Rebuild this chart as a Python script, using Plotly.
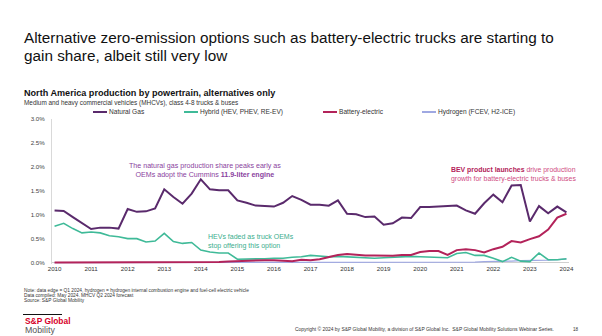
import plotly.graph_objects as go

# Quarterly production share (%) by powertrain, Q1 2010 .. Q1 2024
years = list(range(2010, 2025))
quarters = [y + q / 4 for y in range(2010, 2024) for q in range(4)] + [2024.0]

natural_gas = [
    1.09, 1.08, 0.95, 0.83,
    0.70, 0.73, 0.73, 0.71,
    1.12, 1.06, 1.07, 1.13,
    1.53, 1.37, 1.23, 1.44,
    1.74, 1.53, 1.51, 1.51,
    1.30, 1.25, 1.19, 1.18,
    1.17, 1.25, 1.39, 1.31,
    1.21, 1.21, 1.19, 1.30,
    1.02, 1.01, 0.95, 0.96,
    0.79, 0.82, 0.94, 0.93,
    1.16, 1.16, 1.17, 1.17,
    1.19, 1.09, 1.02, 1.24,
    1.42, 1.26, 1.61, 1.62,
    0.86, 1.18, 1.03, 1.17,
    1.05,
]
hybrid = [
    0.76, 0.82, 0.71, 0.62,
    0.64, 0.62, 0.56, 0.54,
    0.50, 0.50, 0.43, 0.45,
    0.61, 0.44, 0.40, 0.42,
    0.26, 0.22, 0.20, 0.20,
    0.07, 0.07, 0.07, 0.08,
    0.09, 0.09, 0.11, 0.12,
    0.15, 0.13, 0.12, 0.13,
    0.12, 0.10, 0.09, 0.09,
    0.10, 0.11, 0.12, 0.13,
    0.12, 0.11, 0.11, 0.10,
    0.19, 0.21, 0.15, 0.15,
    0.09, 0.02, 0.11, 0.03,
    0.02, 0.20, 0.06, 0.06,
    0.08,
]
battery_electric = [
    0.00, 0.00, 0.00, 0.00,
    0.00, 0.00, 0.00, 0.00,
    0.00, 0.00, 0.00, 0.00,
    0.00, 0.00, 0.00, 0.00,
    0.00, 0.01, 0.01, 0.02,
    0.03, 0.04, 0.04, 0.05,
    0.05, 0.04, 0.03, 0.06,
    0.05, 0.07, 0.11, 0.16,
    0.18, 0.16, 0.15, 0.15,
    0.14, 0.14, 0.16, 0.16,
    0.22, 0.24, 0.24, 0.16,
    0.26, 0.28, 0.26, 0.21,
    0.28, 0.33, 0.45, 0.42,
    0.49, 0.55, 0.69, 0.94,
    1.02,
]
hydrogen = [
    0.00, 0.00, 0.00, 0.00,
    0.00, 0.00, 0.00, 0.00,
    0.00, 0.00, 0.00, 0.00,
    0.00, 0.00, 0.00, 0.00,
    0.00, 0.00, 0.00, 0.00,
    0.00, 0.00, 0.00, 0.00,
    0.00, 0.00, 0.00, 0.00,
    0.00, 0.00, 0.00, 0.00,
    0.00, 0.00, 0.00, 0.00,
    0.00, 0.00, 0.01, 0.01,
    0.01, 0.01, 0.01, 0.01,
    0.01, 0.01, 0.01, 0.02,
    0.02, 0.03, 0.03, 0.04,
    0.04, 0.05, 0.05, 0.06,
    0.07,
]

y_ticks = [0.0, 0.5, 1.0, 1.5, 2.0, 2.5, 3.0]
y_tick_text = ["0.0%", "0.5%", "1.0%", "1.5%", "2.0%", "2.5%", "3.0%"]

series_names = ["Natural Gas", "Hybrid (HEV, PHEV, RE-EV)", "Battery-electric",
                "Hydrogen (FCEV, H2-ICE)"]
series_values = [natural_gas, hybrid, battery_electric, hydrogen]
series_colors = ["#5a2a6c", "#3fba98", "#b3235a", "#9fa8e2"]
series_widths = [2.0, 1.6, 2.0, 1.2]

W, H = 602, 336
ML, MR, MT, MB = 52, 33, 119, 72
PW, PH = W - ML - MR, H - MT - MB
FONT = "Liberation Sans, Arial, sans-serif"


def px(x):
    return (x - ML) / PW


def py(y):
    return (H - MB - y) / PH


fig = go.Figure()
# draw hydrogen first so the other lines sit on top of it
for i in [3, 1, 2, 0]:
    fig.add_trace(go.Scatter(
        x=quarters, y=series_values[i], mode="lines", name=series_names[i],
        line=dict(color=series_colors[i], width=series_widths[i]),
        showlegend=False, hoverinfo="skip",
    ))

annotations = []
shapes = []


def text(x, y, s, size, color="#222222", anchor="left", yanchor="middle"):
    annotations.append(dict(
        x=px(x), y=py(y), xref="paper", yref="paper", text=s, showarrow=False,
        xanchor=anchor, yanchor=yanchor, align=anchor,
        font=dict(family=FONT, size=size, color=color),
    ))


# headline and chart titles
text(22, 37, "Alternative zero-emission options such as battery-electric trucks are starting to",
     15.3, "#111111")
text(22, 55, "gain share, albeit still very low", 15.3, "#111111")
text(22, 93, "<b>North America production by powertrain, alternatives only</b>", 9.1, "#111111")
text(22, 103, "Medium and heavy commercial vehicles (MHCVs), class 4-8 trucks &amp; buses",
     6.4, "#333333")

# legend row
legend_x = [93, 184, 323, 422]
for lx, name, color in zip(legend_x, series_names, series_colors):
    shapes.append(dict(type="line", xref="paper", yref="paper",
                       x0=px(lx), x1=px(lx + 14), y0=py(112), y1=py(112),
                       line=dict(color=color, width=2)))
    text(lx + 14, 112, name, 6.6, "#333333")

# callouts on the chart
text(205, 170,
     "The natural gas production share peaks early as<br>"
     "OEMs adopt the Cummins <b>11.9-liter engine</b>",
     7.1, "#8a3f9e", anchor="center")
text(206, 241, "HEVs faded as truck OEMs<br>stop offering this option", 7.0, "#3aae8e")
text(449, 174,
     "<b><span style='color:#b3235a'>BEV product launches</span></b> drive production<br>"
     "growth for battery-electric trucks &amp; buses",
     6.9, "#cf4a7f")

# footnotes
text(22, 290.5, "Note: data edge = Q1 2024, hydrogen = hydrogen internal combustion engine and fuel-cell electric vehicle",
     4.8, "#333333")
text(22, 295.5, "Data compiled: May 2024. MHCV Q2 2024 forecast", 4.8, "#333333")
text(22, 300.5, "Source: S&amp;P Global Mobility", 4.8, "#333333")

# brand block and copyright line
shapes.append(dict(type="line", xref="paper", yref="paper",
                   x0=px(23), x1=px(62), y0=py(314.5), y1=py(314.5),
                   line=dict(color="#111111", width=1.2)))
text(23, 320.5, "<b>S&amp;P Global</b>", 8.4, "#d6002a")
text(23, 330, "Mobility", 8.8, "#555555")
text(293, 329,
     "Copyright © 2024 by S&amp;P Global Mobility, a division of S&amp;P Global Inc.  "
     "S&amp;P Global Mobility Solutions Webinar Series.",
     4.95, "#333333")
text(576, 329, "18", 4.6, "#333333", anchor="center")

fig.update_layout(
    width=W, height=H,
    margin=dict(l=ML, r=MR, t=MT, b=MB),
    paper_bgcolor="white", plot_bgcolor="white",
    showlegend=False,
    font=dict(family=FONT, size=6, color="#444444"),
    annotations=annotations, shapes=shapes,
    xaxis=dict(
        range=[2009.93, 2024.07], tickmode="array", tickvals=years,
        ticktext=[str(y) for y in years], showgrid=False, zeroline=False,
        showline=False, ticks="", tickfont=dict(size=6.2, color="#333333"),
    ),
    yaxis=dict(
        range=[-0.03, 3.0], tickmode="array", tickvals=y_ticks, ticktext=y_tick_text,
        showgrid=False, zeroline=True, zerolinecolor="#d0d0d0", zerolinewidth=1,
        showline=True, linecolor="#d9d9d9", linewidth=1, ticks="",
        ticklabelstandoff=5, tickfont=dict(size=6.2, color="#444444"),
    ),
)

fig.write_html("out.html")
